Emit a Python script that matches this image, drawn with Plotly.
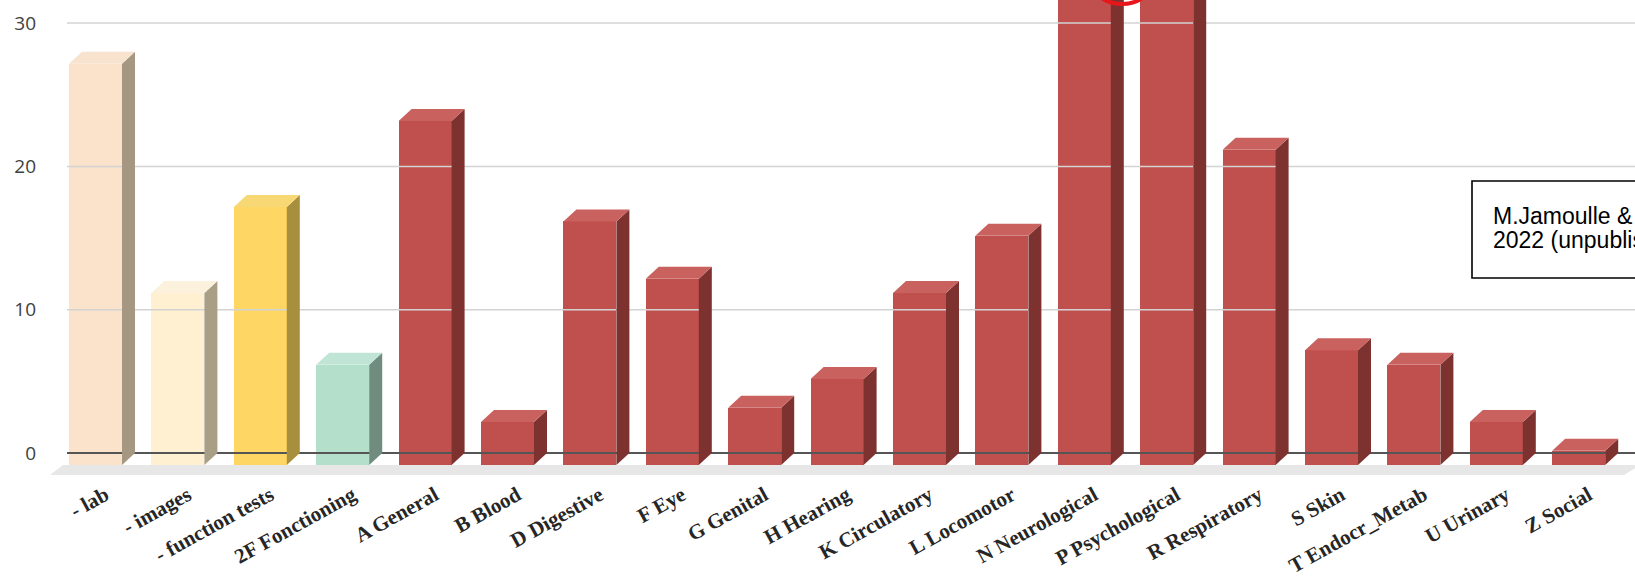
import plotly.graph_objects as go

# ---------------- data ----------------
categories = ["- lab", "- images", "- function tests", "2F Fonctioning", "A General",
              "B Blood", "D Digestive", "F Eye", "G Genital", "H Hearing",
              "K Circulatory", "L Locomotor", "N Neurological", "P Psychological",
              "R Respiratory", "S Skin", "T Endocr_Metab", "U Urinary", "Z Social"]
values = [28, 12, 18, 7, 24, 3, 17, 13, 4, 6, 12, 16, 34, 35, 22, 8, 7, 3, 1]
y_ticks = [0, 10, 20, 30]
note_lines = ["M.Jamoulle & al.,", "2022 (unpublished)"]

# ---------------- styles ----------------
RED_F, RED_S, RED_T = "#C0504D", "#7E3230", "#C9615F"
front_colors = ["#FBE3CB", "#FFF0D2", "#FDD663", "#B3DFCB"] + [RED_F] * 15
side_colors = ["#A59781", "#A89F86", "#A88F3E", "#6F8C7F"] + [RED_S] * 15
top_colors = ["#F7E3CE", "#FBF1DC", "#F7D874", "#C0E5D5"] + [RED_T] * 15

W, H = 1635, 578
ML, MB = 45, 98
PLOT_BOTTOM_PX = H - MB
X0_PX, PITCH_PX = 95.5, 82.4        # pixel centre of first bar, spacing
Y0_PX, UNIT_PX = 453.0, 14.33       # pixel of value 0 (back wall), px per unit

def xd(px):
    return (px - X0_PX) / PITCH_PX

def yd(py):
    return (Y0_PX - py) / UNIT_PX

def paper_x(px):
    return (px - ML) / (W - ML)

def paper_y(py):
    return (PLOT_BOTTOM_PX - py) / PLOT_BOTTOM_PX

xr = [xd(ML), xd(W)]
yr = [yd(PLOT_BOTTOM_PX), yd(0)]
bw = 53 / PITCH_PX          # front face width
ddx = 13 / PITCH_PX         # depth x offset
ddy = 12 / UNIT_PX          # depth y offset
xwall = xd(67)

idx = list(range(len(categories)))
fig = go.Figure()

# floor band
fig.add_trace(go.Scatter(
    x=[xd(63), xd(1640), xd(1624), xd(50), xd(63)],
    y=[-ddy, -ddy, yd(475), yd(475), -ddy],
    mode="lines", fill="toself", fillcolor="#E7E7E7",
    line=dict(width=0), hoverinfo="skip", showlegend=False))

# back-wall gridlines
for t in y_ticks:
    fig.add_trace(go.Scatter(
        x=[xwall, xr[1]], y=[t, t], mode="lines",
        line=dict(color="#555555" if t == 0 else "#D3D3D3", width=2 if t == 0 else 1.5),
        hoverinfo="skip", showlegend=False))

# front faces
fig.add_trace(go.Bar(
    x=idx, y=values, base=-ddy, width=bw,
    marker=dict(color=front_colors, line=dict(width=0)),
    showlegend=False))

# side and top faces
for i, v in enumerate(values):
    xl, xrt = i - bw / 2, i + bw / 2
    fig.add_trace(go.Scatter(
        x=[xrt, xrt + ddx, xrt + ddx, xrt, xrt],
        y=[-ddy, 0, v, v - ddy, -ddy],
        mode="lines", fill="toself", fillcolor=side_colors[i],
        line=dict(width=0), hoverinfo="skip", showlegend=False))
    fig.add_trace(go.Scatter(
        x=[xl, xrt, xrt + ddx, xl + ddx, xl],
        y=[v - ddy, v - ddy, v, v, v - ddy],
        mode="lines", fill="toself", fillcolor=top_colors[i],
        line=dict(width=0), hoverinfo="skip", showlegend=False))

fig.update_xaxes(
    range=xr, showgrid=False, zeroline=False, showline=False, automargin=False,
    tickmode="array", tickvals=[i + 0.12 for i in idx], ticktext=categories,
    tickangle=-29, ticks="", ticklabelstandoff=-2,
    tickfont=dict(family="Liberation Serif", size=21, color="#262626", weight="bold"))
fig.update_yaxes(
    range=yr, showgrid=False, zeroline=False, showline=False, automargin=False,
    tickmode="array", tickvals=y_ticks, ticks="", ticklabelstandoff=8,
    tickfont=dict(family="Open Sans", size=19, color="#404040"))

# note box (partially outside the page, as in the reference)
fig.add_shape(type="rect", xref="paper", yref="paper",
              x0=paper_x(1472), x1=paper_x(1760), y0=paper_y(278), y1=paper_y(181),
              line=dict(color="#000000", width=1.6), fillcolor="rgba(0,0,0,0)")
for k, line in enumerate(note_lines):
    fig.add_annotation(text=line, xref="paper", yref="paper",
                       x=paper_x(1491), y=paper_y(216 + 24 * k),
                       xanchor="left", yanchor="middle", showarrow=False,
                       font=dict(family="Liberation Sans", size=23, color="#000000"))

# red highlight circle, mostly above the visible area
fig.add_shape(type="circle", xref="paper", yref="paper",
              x0=paper_x(1084), x1=paper_x(1160), y0=paper_y(4), y1=paper_y(-72),
              line=dict(color="#E8161A", width=4))

fig.update_layout(
    width=W, height=H, margin=dict(l=ML, r=0, t=0, b=MB, autoexpand=False),
    paper_bgcolor="white", plot_bgcolor="white",
    bargap=0, showlegend=False)

fig.write_html("out.html", config={"displayModeBar": False})
